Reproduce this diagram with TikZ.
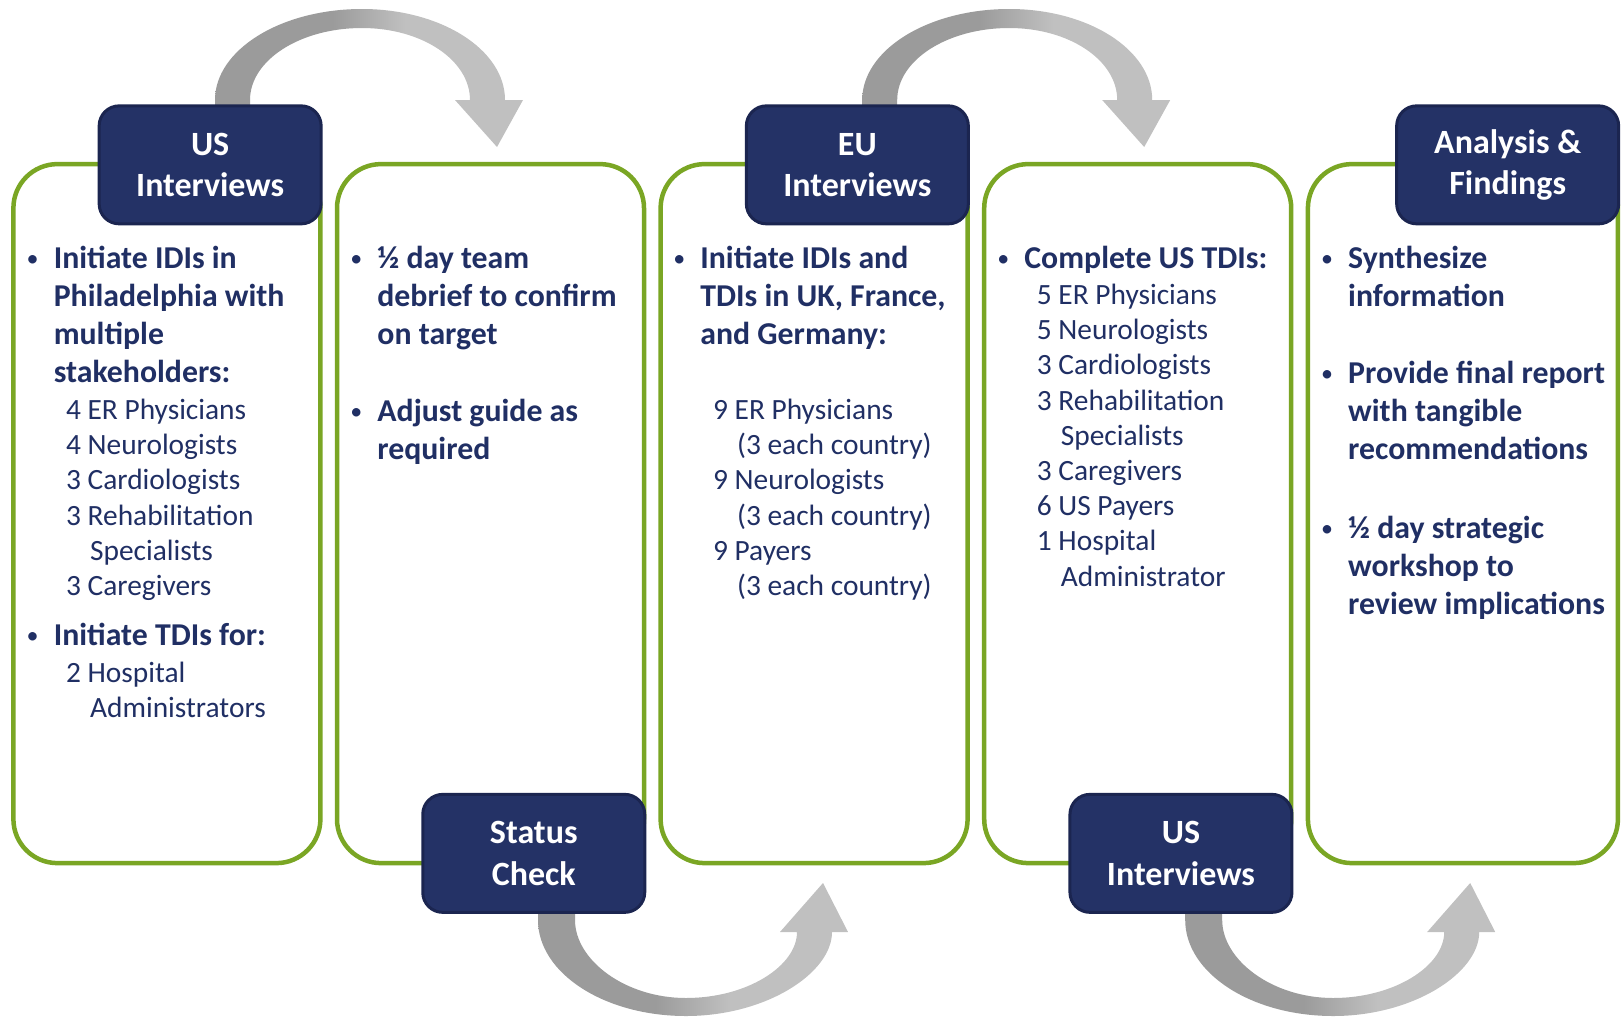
\documentclass[tikz,border=0pt]{standalone}
\usepackage{fontspec}
\setmainfont{Carlito}

\definecolor{navy}{RGB}{36,50,102}
\definecolor{navyedge}{RGB}{27,37,80}
\definecolor{ink}{RGB}{32,47,100}
\definecolor{leaf}{RGB}{122,166,36}
\definecolor{arrowdark}{RGB}{155,155,155}
\definecolor{arrowlight}{RGB}{192,192,192}

\pgfdeclarehorizontalshading{greyarc}{100bp}{color(0bp)=(arrowdark); color(44bp)=(arrowdark); color(56bp)=(arrowlight); color(100bp)=(arrowlight)}

\newcommand\itm{\llap{\raisebox{1pt}{\fontsize{12}{12}\selectfont\mdseries\textbullet}\hspace{7.6pt}}\strut}

\begin{document}
\begin{tikzpicture}[x=0.5pt, y=-0.5pt,
    panel/.style={draw=leaf, line width=2.25pt, fill=white, rounded corners=22pt,
      minimum width=153.5pt, minimum height=349.5pt, inner sep=0pt},
    hdr/.style={draw=navyedge, line width=1.5pt, fill=navy, rounded corners=10pt,
      minimum width=111pt, minimum height=59pt, text=white, align=center,
      font=\fontsize{17}{20.7}\selectfont\bfseries},
    bigtxt/.style={anchor=north west, inner sep=0pt, align=left, text=ink,
      font=\fontsize{15.9}{19}\selectfont\bfseries},
    smalltxt/.style={anchor=north west, inner sep=0pt, align=left, text=ink,
      font=\fontsize{14.7}{17.6}\selectfont}]
  \fill[white] (0,0) rectangle (1621,1017);
  \useasboundingbox (0,0) rectangle (1621,1017);

  % curved arrows over the top
  \foreach \cx in {362,1009.2}{
    \shade[shading=greyarc] ({\cx-147},115) -- ({\cx-147},100)
      .. controls ({\cx-147},49.7) and ({\cx-81},9) .. (\cx,9)
      .. controls ({\cx+79},9) and ({\cx+143},49.7) .. ({\cx+143},100)
      -- ({\cx+161},100) -- ({\cx+135},147) -- ({\cx+93},100) -- ({\cx+108},100)
      .. controls ({\cx+108},60.2) and ({\cx+60},28) .. (\cx,28)
      .. controls ({\cx-62},28) and ({\cx-112},60.2) .. ({\cx-112},100)
      -- ({\cx-112},115) -- cycle;
  }
  % and under the bottom
  \foreach \cx in {686,1333.2}{
    \shade[shading=greyarc] ({\cx-148},905) -- ({\cx-148},920)
      .. controls ({\cx-148},973) and ({\cx-82},1016) .. (\cx,1016)
      .. controls ({\cx+80},1016) and ({\cx+146},973) .. ({\cx+146},932)
      -- ({\cx+162},932) -- ({\cx+137},883) -- ({\cx+94},932) -- ({\cx+111},932)
      .. controls ({\cx+111},966) and ({\cx+61},998) .. (\cx,998)
      .. controls ({\cx-61},998) and ({\cx-111},960) .. ({\cx-111},920)
      -- ({\cx-111},905) -- cycle;
  }

  \foreach \i in {1,...,4}
    \node[panel] (b\i) at ({166.9+323.6*(\i-1)},513.6) {};
  \node[panel, minimum width=155pt] (b5) at (1462.9,513.6) {};

  \node[hdr, anchor=east, yshift=-1.5pt] (h1) at (b1.north east) {US\\Interviews};
  \node[hdr, anchor=east, yshift=6pt] (h2) at (b2.south east) {Status\\Check};
  \node[hdr, anchor=east, yshift=-1.5pt] (h3) at (b3.north east) {EU\\Interviews};
  \node[hdr, anchor=east, yshift=6pt] (h4) at (b4.south east) {US\\Interviews};
  \node[hdr, anchor=east, yshift=-1.5pt] (h5) at (b5.north east) {Analysis \&\\Findings};

  % US interviews
  \node[bigtxt] (t1a) at (53.4,241.4) {\itm Initiate IDIs in\\Philadelphia with\\multiple\\stakeholders:};
  \node[smalltxt] (t1b) at (65.7,394.4) {\strut 4 ER Physicians\\4 Neurologists\\3 Cardiologists\\3 Rehabilitation\\\hspace*{12pt}Specialists\\3 Caregivers};
  \node[bigtxt] (t1c) at (53.4,618.4) {\itm Initiate TDIs for:};
  \node[smalltxt] (t1d) at (65.7,657) {\strut 2 Hospital\\\hspace*{12pt}Administrators};

  % status check
  \node[bigtxt] (t2a) at (377,241.4) {\itm ½ day team\\debrief to confirm\\on target};
  \node[bigtxt] (t2b) at (377,394.4) {\itm Adjust guide as\\required};

  % EU interviews
  \node[bigtxt] (t3a) at (700,241.4) {\itm Initiate IDIs and\\TDIs in UK, France,\\and Germany:};
  \node[smalltxt] (t3b) at (712.7,394.4) {\strut 9 ER Physicians\\\hspace*{12pt}(3 each country)\\9 Neurologists\\\hspace*{12pt}(3 each country)\\9 Payers\\\hspace*{12pt}(3 each country)};

  % US interviews, second round
  \node[bigtxt] (t4a) at (1024,241.4) {\itm Complete US TDIs:};
  \node[smalltxt] (t4b) at (1036.5,279.4) {\strut 5 ER Physicians\\5 Neurologists\\3 Cardiologists\\3 Rehabilitation\\\hspace*{12pt}Specialists\\3 Caregivers\\6 US Payers\\1 Hospital\\\hspace*{12pt}Administrator};

  % analysis
  \node[bigtxt] (t5a) at (1347.8,241.4) {\itm Synthesize\\information};
  \node[bigtxt] (t5b) at (1347.8,356.2) {\itm Provide final report\\with tangible\\recommendations};
  \node[bigtxt] (t5c) at (1347.8,511.2) {\itm ½ day strategic\\workshop to\\review implications};
\end{tikzpicture}
\end{document}
